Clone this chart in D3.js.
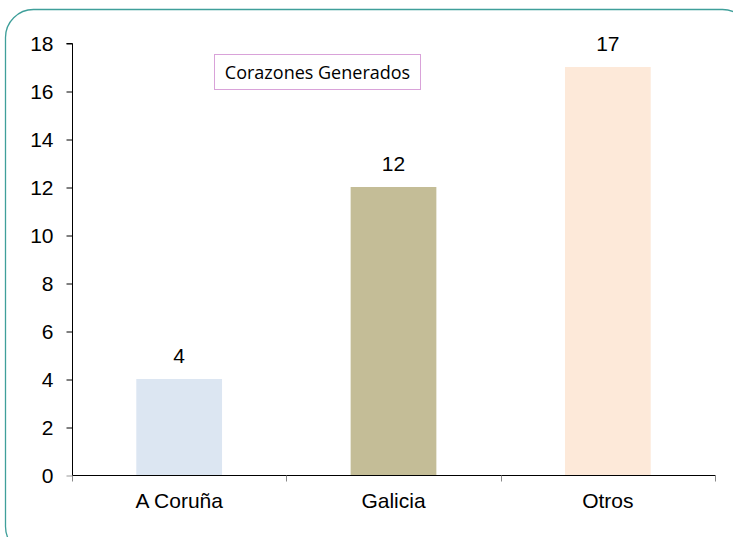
<!DOCTYPE html>
<html>
<head>
<meta charset="utf-8">
<script src="https://cdn.jsdelivr.net/npm/d3@7"></script>
<style>
  body { margin: 0; background: #fff; }
  svg { display: block; }
</style>
</head>
<body>
<svg id="chart" width="733" height="537"></svg>
<script>
const categories = ["A Coruña", "Galicia", "Otros"];
const values = [4, 12, 17];
const barColors = ["#dce6f2", "#c4bd97", "#fde9d9"];
const yTicks = [0, 2, 4, 6, 8, 10, 12, 14, 16, 18];
const legendLabel = "Corazones Generados";

const svg = d3.select("#chart");

// outer frame (rounded, runs off the right and bottom edges)
svg.append("rect")
  .attr("x", 5.5).attr("y", 9.5)
  .attr("width", 745).attr("height", 545)
  .attr("rx", 28).attr("ry", 28)
  .attr("fill", "none")
  .attr("stroke", "#3f9f9a")
  .attr("stroke-width", 1.3);

const pLeft = 72, pRight = 715, pTop = 43, pBottom = 475;
const font = "Liberation Sans, Arial, sans-serif";
const fontSize = 21;

const x = d3.scaleBand().domain(categories).range([pLeft, pRight]).paddingInner(0.6).paddingOuter(0.3);
const y = d3.scaleLinear().domain([0, 18]).range([pBottom, pTop]);

// bars
svg.selectAll("rect.bar")
  .data(values)
  .enter()
  .append("rect")
  .attr("class", "bar")
  .attr("x", (d, i) => x(categories[i]))
  .attr("y", d => y(d))
  .attr("width", x.bandwidth())
  .attr("height", d => pBottom - y(d))
  .attr("fill", (d, i) => barColors[i]);

// value labels
svg.selectAll("text.val")
  .data(values)
  .enter()
  .append("text")
  .attr("class", "val")
  .attr("x", (d, i) => x(categories[i]) + x.bandwidth() / 2)
  .attr("y", d => y(d) - 16)
  .attr("text-anchor", "middle")
  .attr("font-family", font)
  .attr("font-size", fontSize)
  .attr("fill", "#000")
  .text(d => d);

// y axis
const yAxis = svg.append("g")
  .attr("transform", `translate(${pLeft + 0.5},0)`)
  .call(d3.axisLeft(y).tickValues(yTicks).tickSize(6).tickPadding(13));
yAxis.select(".domain").attr("stroke", "#000").attr("d", `M-6,${pTop + 0.5}H0V${pBottom}`);
yAxis.selectAll(".tick line").attr("stroke", "#000").attr("transform", "translate(0,0.5)");
yAxis.selectAll(".tick").filter(d => d === 0).select("line").attr("stroke", "#999");
yAxis.selectAll(".tick text")
  .attr("font-family", font)
  .attr("font-size", fontSize)
  .attr("fill", "#000")
  .attr("dy", "0.35em");

// x axis
const xBound = d3.scaleLinear().domain([0, categories.length]).range([pLeft, pRight]);
const xAxis = svg.append("g").attr("transform", `translate(0,${pBottom + 0.5})`);
xAxis.append("line")
  .attr("x1", pLeft).attr("x2", pRight + 0.5)
  .attr("stroke", "#000");
xAxis.selectAll("line.tk")
  .data(d3.range(categories.length + 1))
  .enter()
  .append("line")
  .attr("class", "tk")
  .attr("x1", d => Math.round(xBound(d)) + 0.5)
  .attr("x2", d => Math.round(xBound(d)) + 0.5)
  .attr("y1", 0).attr("y2", 6)
  .attr("stroke", "#888");
xAxis.selectAll("text")
  .data(categories)
  .enter()
  .append("text")
  .attr("x", d => x(d) + x.bandwidth() / 2)
  .attr("y", 32)
  .attr("text-anchor", "middle")
  .attr("font-family", font)
  .attr("font-size", fontSize)
  .attr("fill", "#000")
  .text(d => d);

// legend box
const lg = svg.append("g").attr("transform", "translate(214.5,54.5)");
lg.append("rect")
  .attr("width", 206).attr("height", 35)
  .attr("fill", "#fff")
  .attr("stroke", "#d9a2d9");
lg.append("text")
  .attr("x", 103).attr("y", 24)
  .attr("text-anchor", "middle")
  .attr("font-family", "Open Sans, Noto Sans, sans-serif")
  .attr("font-size", 18)
  .attr("fill", "#000")
  .text(legendLabel);
</script>
</body>
</html>
